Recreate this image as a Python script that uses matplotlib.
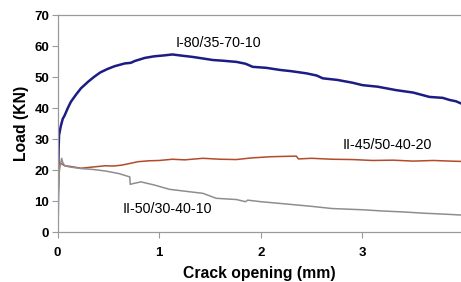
import matplotlib
matplotlib.use("Agg")
import matplotlib.pyplot as plt

plt.rcParams["font.family"] = ["Liberation Sans", "DejaVu Sans"]

################################################################################
# Data
################################################################################
x_i80 = [0, 0.003, 0.006, 0.01, 0.014, 0.03, 0.05, 0.07, 0.1, 0.13, 0.18,
         0.23, 0.3, 0.36, 0.42, 0.49, 0.56, 0.66, 0.72, 0.76, 0.86, 0.95,
         1.05, 1.13, 1.2, 1.33, 1.43, 1.53, 1.62, 1.76, 1.85, 1.92, 2.05,
         2.19, 2.3, 2.45, 2.55, 2.61, 2.75, 2.9, 3.0, 3.15, 3.33, 3.5, 3.66,
         3.79, 3.86, 3.92, 3.97]
y_i80 = [0, 10, 20, 27, 31.3, 34, 36.5, 37.7, 40, 42, 44.3,
         46.4, 48.5, 50.1, 51.5, 52.6, 53.5, 54.4, 54.6, 55.2, 56.2, 56.7,
         57.0, 57.3, 57.0, 56.5, 56.0, 55.5, 55.3, 54.9, 54.3, 53.3, 53.0,
         52.3, 51.9, 51.2, 50.5, 49.6, 49.1, 48.2, 47.4, 46.9, 45.8, 45.0, 43.6,
         43.3, 42.6, 42.2, 41.5]

x_ii45 = [0, 0.005, 0.012, 0.02, 0.04, 0.07, 0.12, 0.23, 0.35, 0.47, 0.55,
          0.63, 0.72, 0.79, 0.9, 1.0, 1.13, 1.25, 1.43, 1.6, 1.76, 1.9, 2.09,
          2.2, 2.35, 2.37, 2.5, 2.7, 2.9, 3.1, 3.3, 3.5, 3.7, 3.86, 3.97]
y_ii45 = [0, 12, 20, 22.3, 22.0, 21.4, 21.2, 20.6, 21.0, 21.4, 21.3,
          21.6, 22.2, 22.7, 23.0, 23.1, 23.5, 23.3, 23.8, 23.5, 23.4, 23.9, 24.3,
          24.4, 24.5, 23.6, 23.8, 23.5, 23.4, 23.1, 23.2, 22.9, 23.1, 22.9, 22.8]

x_ii50 = [0, 0.006, 0.015, 0.025, 0.04, 0.05, 0.07, 0.12, 0.23, 0.35, 0.47,
          0.6, 0.71, 0.715, 0.75, 0.82, 0.95, 1.1, 1.25, 1.43, 1.56, 1.76,
          1.85, 1.87, 2.0, 2.27, 2.5, 2.7, 3.0, 3.2, 3.4, 3.6, 3.86, 3.97]
y_ii50 = [0, 12, 19, 21.5, 23.8, 22.5, 21.4, 21.0, 20.5, 20.2, 19.7,
          18.9, 17.8, 15.4, 15.7, 16.2, 15.2, 13.8, 13.2, 12.5, 10.9, 10.5,
          9.8, 10.3, 9.8, 9.0, 8.3, 7.6, 7.2, 6.8, 6.5, 6.1, 5.7, 5.5]

x_ticks = [0, 1, 2, 3]
y_ticks = [0, 10, 20, 30, 40, 50, 60, 70]

################################################################################
# Plot
################################################################################
fig = plt.figure(figsize=(4.61, 2.82), dpi=100)
ax = fig.add_axes([0.125, 0.177, 0.875, 0.7695])

ax.plot(x_i80, y_i80, color="#1c1c84", linewidth=1.8)
ax.plot(x_ii45, y_ii45, color="#b24a2c", linewidth=1.1)
ax.plot(x_ii50, y_ii50, color="#8e8e8e", linewidth=1.1)

ax.text(1.58, 60.9, "I-80/35-70-10", ha="center", va="center", fontsize=10.3)
ax.text(3.24, 28.0, "II-45/50-40-20", ha="center", va="center", fontsize=10.3)
ax.text(1.08, 7.4, "II-50/30-40-10", ha="center", va="center", fontsize=10.3)

ax.set_xlim(0, 3.97)
ax.set_ylim(0, 70)
ax.set_xticks(x_ticks)
ax.set_yticks(y_ticks)

for side in ["left", "top", "bottom"]:
    ax.spines[side].set_color("#9a9a9a")
    ax.spines[side].set_linewidth(0.9)
ax.spines["right"].set_visible(False)

ax.tick_params(axis="both", colors="#9a9a9a", length=4, width=0.8,
               labelcolor="black", labelsize=9.5)
ax.tick_params(axis="x", pad=7)
ax.tick_params(axis="y", pad=2)
for lab in ax.get_xticklabels() + ax.get_yticklabels():
    lab.set_fontweight("bold")

ax.set_xlabel("Crack opening (mm)", fontsize=11.3, fontweight="bold",
              labelpad=5)
ax.set_ylabel("Load (KN)", fontsize=11.3, fontweight="bold", labelpad=4)

fig.savefig("out.png", dpi=100)
plt.close(fig)
